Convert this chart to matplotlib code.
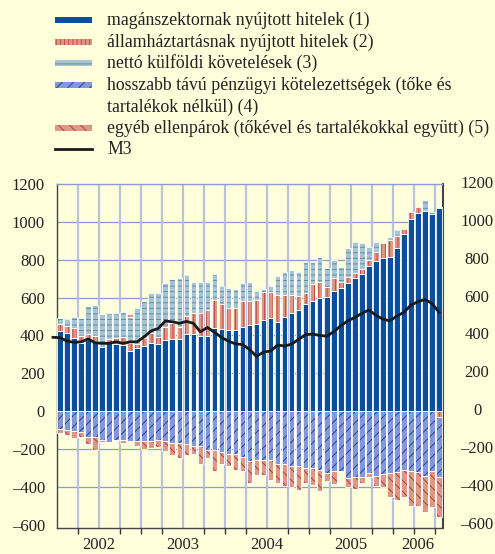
import numpy as np
import matplotlib.pyplot as plt
from matplotlib.patches import Rectangle
from matplotlib.lines import Line2D

plt.rcParams['font.family'] = ['Liberation Serif', 'DejaVu Serif']
plt.rcParams['hatch.linewidth'] = 0.7

W, H, DPI = 495, 554, 100
BG = '#ffffdc'

# monthly data, Jan 2002 - Jul 2006
years = ["2002", "2003", "2004", "2005", "2006"]
year_months = [12, 12, 12, 12, 7]

private_loans = [424, 411, 384, 358, 375, 363, 340, 358, 354, 349, 319, 331, 345, 358,
                 352, 375, 382, 379, 405, 410, 398, 398, 437, 432, 428, 428, 442, 455,
                 458, 481, 490, 472, 498, 520, 534, 565, 583, 596, 604, 636, 649, 675,
                 701, 724, 766, 794, 807, 816, 860, 934, 1013, 1048, 1059, 1040, 1072]
gov_loans = [34, 40, 56, 40, 30, 35, 0, 21, 33, 44, 39, 23, 39, 53, 37, 71, 85, 67, 99,
             106, 122, 136, 150, 132, 118, 118, 141, 128, 129, 150, 137, 141, 115, 93, 74,
             57, 87, 88, 53, 69, 35, 32, 27, 25, 32, 45, 79, 88, 67, 26, 41, 32, 0, 0, -30]
net_external = [35, 35, 58, 95, 152, 162, 171, 137, 129, 129, 140, 192, 197, 214, 236,
                229, 232, 255, 217, 168, 164, 146, 136, 97, 106, 99, 92, 97, 49, 12, 34,
                102, 120, 132, 128, 167, 119, 132, 97, 93, 79, 153, 164, 137, 70, 53, 0,
                14, 30, 0, 0, 0, 56, 14, 8]
longterm_liab = [-92, -100, -106, -113, -139, -139, -153, -162, -153, -153, -157, -160,
                 -160, -160, -153, -160, -167, -167, -176, -185, -185, -206, -206, -215,
                 -224, -224, -241, -264, -259, -259, -259, -277, -282, -291, -291, -303,
                 -300, -312, -326, -317, -317, -356, -347, -347, -326, -344, -333, -326,
                 -321, -312, -315, -321, -344, -317, -320]
other_cp = [-26, -27, -35, -23, -37, -67, -9, 0, 0, -18, 13, -25, -42, -37, -39, -50,
            -63, -80, -55, -42, -92, -44, -111, -65, -67, -88, -76, -115, -79, -79, -106,
            -105, -114, -112, -127, -76, -91, -109, -42, -69, 0, -47, -62, -35, -21, -52,
            -70, -130, -149, -144, -187, -181, -188, -192, -212]
# M3, Dec 2001 - Jul 2006
m3 = [390, 388, 370, 363, 366, 381, 361, 358, 358, 366, 358, 366, 366, 393, 424, 437,
      476, 472, 464, 474, 464, 419, 442, 417, 389, 370, 355, 352, 326, 289, 312, 317,
      349, 344, 354, 379, 404, 407, 400, 396, 419, 451, 477, 495, 516, 534, 507, 486,
      477, 502, 522, 560, 578, 590, 569, 522]

labels = ["magánszektornak nyújtott hitelek (1)",
          "államháztartásnak nyújtott hitelek (2)",
          "nettó külföldi követelések (3)",
          "hosszabb távú pénzügyi kötelezettségek (tőke és\ntartalékok nélkül) (4)",
          "egyéb ellenpárok (tőkével és tartalékokkal együtt) (5)",
          "M3"]

styles = [('#0a4f9e', '#0a4f9e', None),
          ('#dc9884', '#c04a4a', '||||'),
          ('#a6c4d4', '#62909f', '---'),
          ('#8497da', '#23489e', '///'),
          ('#dc9a86', '#b83c3c', '\\\\\\')]

fig = plt.figure(figsize=(W / DPI, H / DPI), dpi=DPI, facecolor=BG)
ax = fig.add_axes([56.5 / W, 1 - 527.5 / H, 386 / W, 343.5 / H], facecolor=BG)

n = len(private_loans)
x = np.arange(n)
pos = np.zeros(n)
neg = np.zeros(n)
for vals, (fc, hc, hatch) in zip([private_loans, gov_loans, net_external,
                                  longterm_liab, other_cp], styles):
    v = np.asarray(vals, float)
    bottom = np.where(v >= 0, pos, neg)
    m = v != 0
    ax.bar(x[m], v[m], 0.8, bottom=bottom[m], color=fc, edgecolor=hc, hatch=hatch,
           linewidth=0, zorder=2)
    ax.bar(x[m], v[m], 0.8, bottom=bottom[m], fill=False, edgecolor='white',
           linewidth=0.6, zorder=3)
    pos += np.where(v > 0, v, 0)
    neg += np.where(v < 0, v, 0)

ax.plot(np.arange(-1, n), m3, color='#1a1a1a', lw=2.0, zorder=4, clip_on=False,
        solid_joinstyle='round')

ax.set_xlim(-0.5, n - 0.5)
ax.set_ylim(-615, 1200)

# grid
for yv in [-400, -200, 200, 400, 600, 800, 1000]:
    ax.axhline(yv, color='#8c9bd0', lw=0.9, zorder=1)
quarters = np.arange(2.5, n - 0.5, 3)
for q in quarters:
    ax.axvline(q, color='#b8c2dc', lw=1.6, zorder=1)

# y axis: left labels right-aligned, right labels centred
yt = np.arange(-600, 1201, 200)
ylab = [f"{v}".replace('-', '–') for v in yt]
ax.set_yticks(yt)
ax.set_yticklabels(ylab, fontsize=12)
ax.tick_params(axis='y', length=0, pad=8.3, colors='#222222')
for v, s in zip(yt, ylab):
    ax.text(1 + 34.5 / 386, v, s, transform=ax.get_yaxis_transform(), ha='center',
            va='center', fontsize=12, color='#222222')

# x axis
starts = np.cumsum([0] + year_months[:-1])
centers = [s + (mcount - 1) / 2 for s, mcount in zip(starts, year_months)]
ax.set_xticks(centers)
ax.set_xticklabels(years, fontsize=12)
ax.set_xticks(quarters, minor=True)
ax.tick_params(axis='x', which='major', length=0, pad=7, colors='#222222')
ax.tick_params(axis='x', which='minor', length=4, width=1, direction='out',
               color='#333333')

for side in ['left', 'bottom']:
    ax.spines[side].set_color('#444444')
    ax.spines[side].set_linewidth(1)
ax.spines['right'].set_color('#444444')
ax.spines['right'].set_linewidth(1.5)
ax.spines['top'].set_color('#8c9bd0')
ax.spines['top'].set_linewidth(1)

# legend
rows = [20, 42, 63, 85, 128, 149]
for i, (lab, y) in enumerate(zip(labels, rows)):
    if i < 5:
        fc, hc, hatch = styles[i]
        fig.add_artist(Rectangle((55 / W, 1 - (y + 3) / H), 37 / W, 6 / H,
                                 transform=fig.transFigure, facecolor=fc,
                                 edgecolor=hc, hatch=hatch, linewidth=0))
    else:
        fig.add_artist(Line2D([55 / W, 92 / W], [1 - y / H, 1 - y / H],
                              transform=fig.transFigure, color='#1a1a1a', lw=2))
    for k, part in enumerate(lab.split('\n')):
        fig.text(107 / W, 1 - (y + 22 * k) / H, part, fontsize=12.8, va='center',
                 ha='left', color='#222222')

fig.savefig('out.png', dpi=DPI, facecolor=BG)
